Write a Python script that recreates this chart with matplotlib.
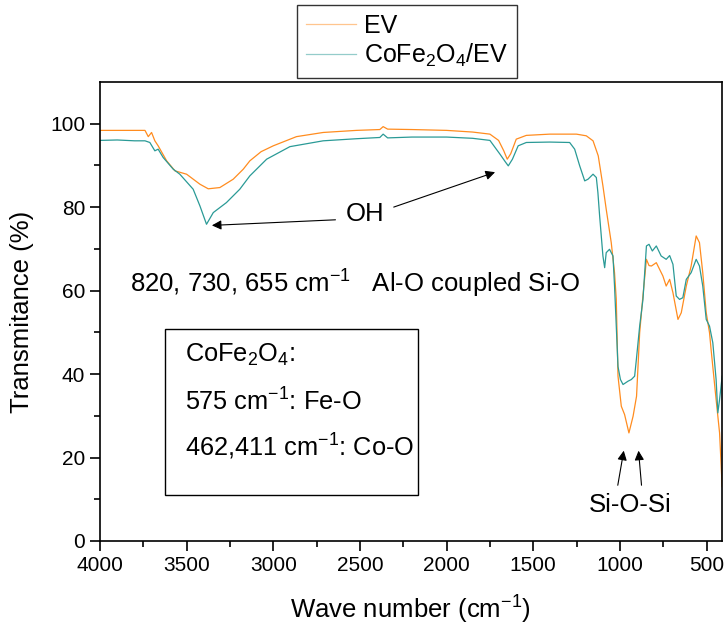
import numpy as np
import matplotlib
matplotlib.use('Agg')
from matplotlib import pyplot as plt
from matplotlib.patches import Rectangle

plt.rcParams['font.family'] = ['Liberation Sans', 'DejaVu Sans']
plt.rcParams['mathtext.fontset'] = 'custom'
plt.rcParams['mathtext.rm'] = 'Liberation Sans'
plt.rcParams['mathtext.it'] = 'Liberation Sans'

# FTIR spectra (wave number in cm-1, transmittance in %)
ev_x = [4000, 3900, 3800, 3740, 3721, 3702, 3683, 3664, 3615, 3567, 3500, 3423, 3375,
        3308, 3231, 3173, 3135, 3070, 3000, 2866, 2712, 2520, 2385, 2366, 2340, 2200,
        2000, 1850, 1750, 1700, 1670, 1650, 1630, 1598, 1540, 1405, 1251, 1194, 1155,
        1125, 1098, 1079, 1050, 1031, 1021, 1011, 992, 973, 948, 924, 904, 886, 869,
        847, 832, 818, 790, 752, 733, 713, 694, 665, 646, 617, 589, 560, 541, 522,
        502, 483, 474, 445, 425, 410]
ev_y = [98.4, 98.4, 98.4, 98.4, 96.9, 97.9, 95.9, 94.7, 91.1, 88.7, 87.9, 85.5, 84.4,
        84.7, 86.7, 89.1, 91.1, 93.3, 94.7, 96.9, 97.9, 98.4, 98.6, 99.3, 98.7, 98.6,
        98.4, 98.0, 97.5, 96.0, 93.5, 91.5, 92.8, 96.3, 97.2, 97.5, 97.5, 97.1, 95.9,
        92.3, 85.1, 79.5, 71.5, 64.3, 57.9, 39.5, 32.3, 30.3, 25.9, 29.9, 34.7, 49.9, 57.9,
        67.5, 66.0, 65.9, 66.7, 63.5, 61.1, 62.7, 59.5, 53.1, 54.7, 61.1, 65.9, 73.1, 71.5, 64.3,
        54.7, 49.9, 45.9, 33.9, 25.9, 13.0]

cofe_x = [4000, 3900, 3800, 3740, 3712, 3683, 3664, 3635, 3577, 3539, 3462, 3423, 3385,
          3346, 3270, 3193, 3135, 3038, 2904, 2712, 2520, 2385, 2366, 2340, 2200, 2000,
          1850, 1750, 1692, 1660, 1644, 1620, 1587, 1540, 1405, 1290, 1261, 1232, 1203,
          1184, 1155, 1136, 1127, 1117, 1098, 1088, 1079, 1060, 1040, 1031, 1021, 1011,
          997, 982, 953, 934, 915, 905, 886, 867, 847, 832, 813, 790, 762, 733, 713, 694,
          675, 656, 637, 617, 589, 560, 541, 522, 502, 483, 464, 445, 435, 425, 410]
cofe_y = [96.0, 96.1, 95.9, 95.9, 95.5, 93.5, 93.9, 91.9, 89.1, 87.9, 84.3, 80.3, 75.9,
          78.7, 81.1, 84.3, 87.5, 91.5, 94.5, 95.9, 96.4, 96.7, 97.5, 96.6, 96.8, 96.8,
          96.5, 96.0, 92.7, 90.8, 89.9, 91.5, 94.7, 95.5, 95.6, 95.5, 93.9, 89.9, 86.3,
          86.7, 87.9, 87.1, 83.5, 77.9, 68.3, 65.5, 69.1, 69.9, 68.3, 61.1, 51.5, 41.8,
          38.7, 37.5, 38.3, 38.7, 39.5, 43.5, 51.5, 57.9, 70.7, 71.1, 69.5, 70.7, 68.3, 67.5, 68.4, 66.3,
          58.7, 57.9, 58.3, 62.7, 64.3, 67.5, 65.9, 61.1, 53.1, 51.5, 47.5, 38.7, 30.7, 33.9, 39.5]

ev_color = '#FF8C1F'
cofe_color = '#2A9A96'

fig = plt.figure(figsize=(7.24, 6.34), dpi=100)
ax = fig.add_axes([0.138, 0.1467, 0.859, 0.724])

l1, = ax.plot(ev_x, ev_y, color=ev_color, lw=0.9, label='EV')
l2, = ax.plot(cofe_x, cofe_y, color=cofe_color, lw=0.9, label='CoFe$_2$O$_4$/EV')

ax.set_xlim(4000, 412)
ax.set_ylim(0, 110)
ax.set_xticks([4000, 3500, 3000, 2500, 2000, 1500, 1000, 500])
ax.set_xticks(np.arange(3750, 400, -500), minor=True)
ax.set_yticks([0, 20, 40, 60, 80, 100])
ax.set_yticks([10, 30, 50, 70, 90], minor=True)
ax.tick_params(axis='both', which='major', direction='out', length=7, width=1.2, labelsize=15)
ax.tick_params(axis='both', which='minor', direction='out', length=4, width=1.2)
for s in ax.spines.values():
    s.set_linewidth(1.2)

ax.set_xlabel('Wave number (cm$^{-1}$)', fontsize=18.5, labelpad=14)
ax.set_ylabel('Transmitance (%)', fontsize=18.5, labelpad=12)

# annotations
arrow = dict(arrowstyle='-|>', color='black', lw=0.8, mutation_scale=14)
ax.text(2471, 78.3, 'OH', fontsize=18.5, ha='center', va='center')
ax.annotate('', xy=(3370, 75.6), xytext=(2625, 77.0), arrowprops=arrow)
ax.annotate('', xy=(1705, 88.6), xytext=(2320, 79.8), arrowprops=arrow)

ax.text(3827, 61.5, '820, 730, 655 cm$^{-1}$   Al-O coupled Si-O', fontsize=18.5,
        ha='left', va='center')

ax.add_patch(Rectangle((2165, 11.0), 3625 - 2165, 50.7 - 11.0, fill=False,
                       edgecolor='black', lw=1.0))
ax.text(3510, 44.7, 'CoFe$_2$O$_4$:', fontsize=18.3, ha='left', va='center')
ax.text(3510, 33.4, '575 cm$^{-1}$: Fe-O', fontsize=18.3, ha='left', va='center')
ax.text(3510, 22.6, '462,411 cm$^{-1}$: Co-O', fontsize=18.3, ha='left', va='center')

ax.text(940, 8.6, 'Si-O-Si', fontsize=18.5, ha='center', va='center')
ax.annotate('', xy=(975, 22.3), xytext=(1015, 12.7), arrowprops=arrow)
ax.annotate('', xy=(894, 22.3), xytext=(874, 12.7), arrowprops=arrow)

leg = fig.legend(handles=[l1, l2], loc='center', bbox_to_anchor=(407 / 724, 1 - 41.5 / 634),
                 fontsize=18, frameon=True, fancybox=False, edgecolor='black',
                 handlelength=2.0, borderpad=0.35, labelspacing=0.15, handletextpad=0.3,
                 borderaxespad=0)
leg.get_frame().set_linewidth(1.0)
for h in leg.get_lines():
    h.set_alpha(0.5)

fig.savefig('out.png', dpi=100)
